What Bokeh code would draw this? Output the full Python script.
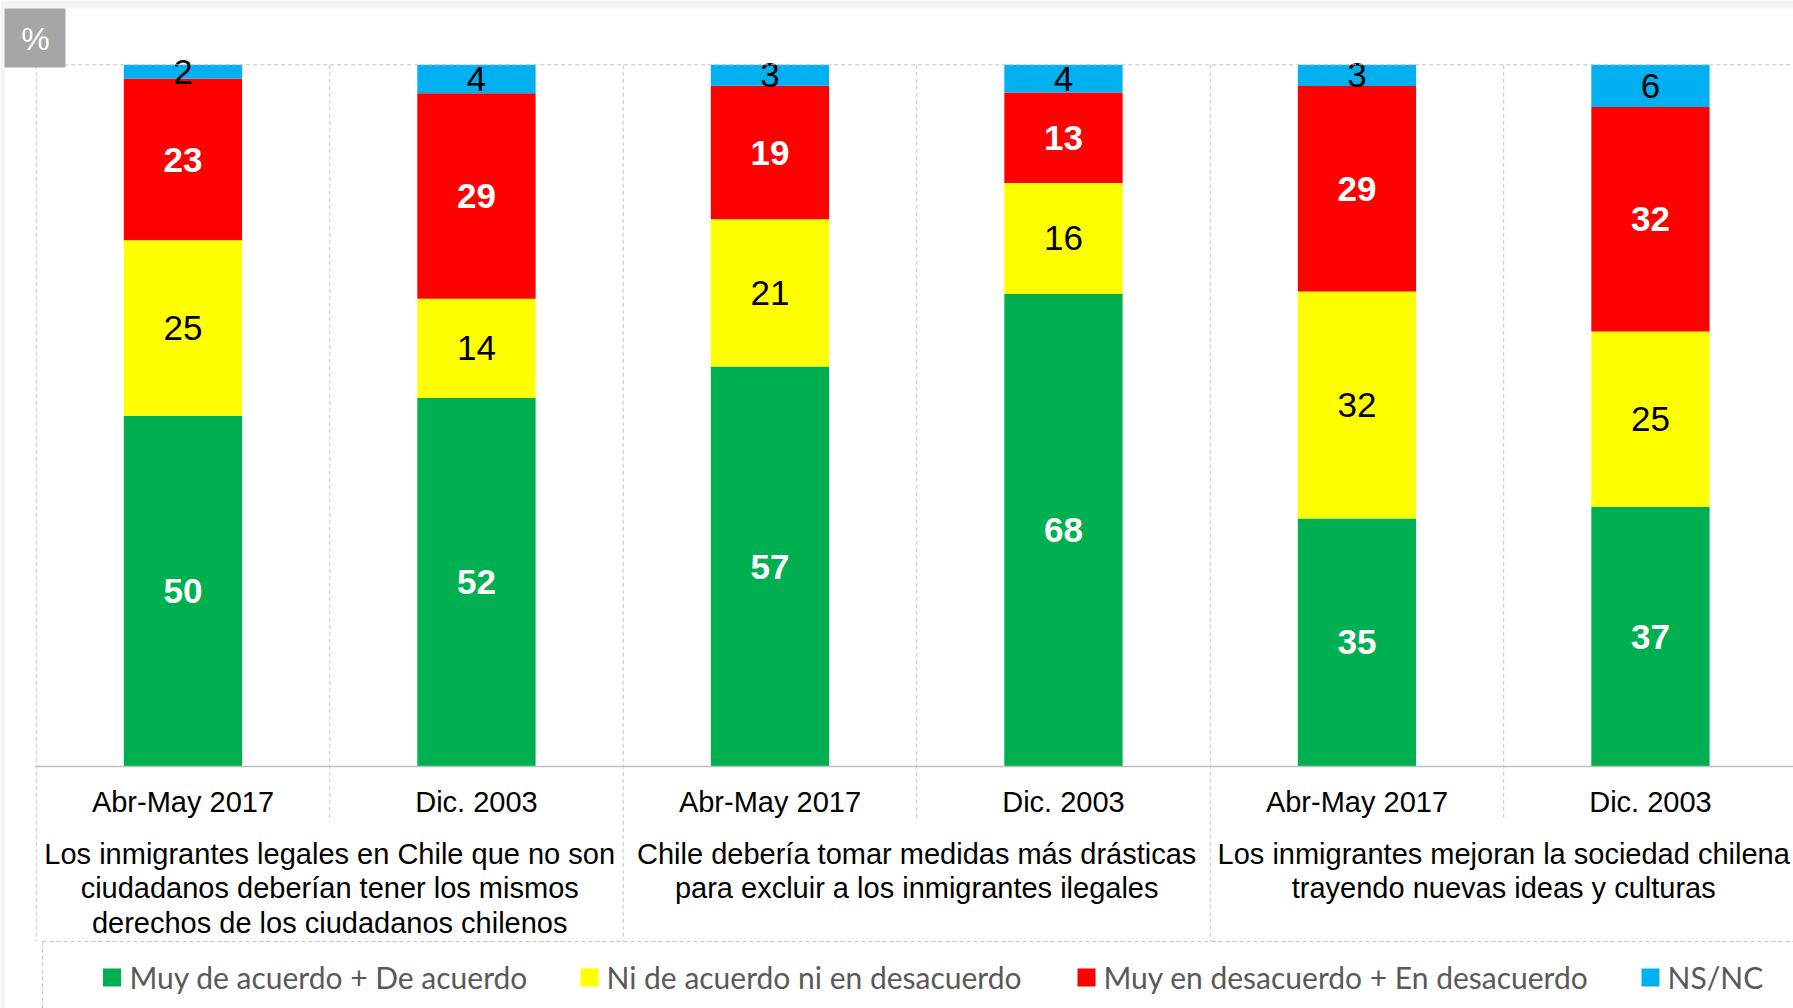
from bokeh.plotting import figure
from bokeh.models import ColumnDataSource, Range1d
from bokeh.core.properties import value
from bokeh.embed import file_html
from bokeh.resources import INLINE

# ---------------- data ----------------
periods = ["Abr-May 2017", "Dic. 2003", "Abr-May 2017", "Dic. 2003", "Abr-May 2017", "Dic. 2003"]
group_labels = [
    ["Los inmigrantes legales en Chile que no son",
     "ciudadanos deberían tener los mismos",
     "derechos de los ciudadanos chilenos"],
    ["Chile debería tomar medidas más drásticas",
     "para excluir a los inmigrantes ilegales"],
    ["Los inmigrantes mejoran la sociedad chilena",
     "trayendo nuevas ideas y culturas"],
]
series_names = ["Muy de acuerdo + De acuerdo", "Ni de acuerdo ni en desacuerdo",
                "Muy en desacuerdo + En desacuerdo", "NS/NC"]
acuerdo = [50, 52, 57, 68, 35, 37]
neutral = [25, 14, 21, 16, 32, 25]
desacuerdo = [23, 29, 19, 13, 29, 32]
nsnc = [2, 4, 3, 4, 3, 6]
colors = ["#00B050", "#FFFF00", "#FF0000", "#00B0F0"]

# ---------------- geometry helpers (page pixels -> data) ----------------
W, H = 1793, 1008
X0, UX = 35.7, 293.5      # page x of category 0 boundary, px per category
Y0, UY = 766.0, 7.017     # page y of 0 %, px per percent


def X(px):
    return (px - X0) / UX


def Y(py):
    return (Y0 - py) / UY


p = figure(width=W, height=H, output_backend="svg", toolbar_location=None,
           x_range=Range1d(X(0), X(W)), y_range=Range1d(Y(H), Y(0)),
           x_axis_type=None, y_axis_type=None, min_border=0,
           min_border_left=0, min_border_right=0, min_border_top=0, min_border_bottom=0)
p.outline_line_color = None
p.grid.visible = False
p.background_fill_color = "white"
p.border_fill_color = "white"

# faint frame strips of the original slide
p.quad(left=[X(0), X(0)], right=[X(W + 5), X(4)], top=[Y(-5), Y(-5)], bottom=[Y(8), Y(H + 5)],
       fill_color="#F4F4F4", line_color=None)

# ---------------- stacked 100% bars ----------------
raw = [acuerdo, neutral, desacuerdo, nsnc]
keys = ["acuerdo", "neutral", "desacuerdo", "nsnc"]
n = len(periods)
totals = [sum(r[i] for r in raw) for i in range(n)]
norm = {k: [raw[j][i] * 100.0 / totals[i] for i in range(n)] for j, k in enumerate(keys)}
xs = [i + 0.5 for i in range(n)]
src = ColumnDataSource(dict(x=xs, **norm))
p.vbar_stack(keys, x="x", width=0.403, color=colors, line_color=None, source=src)

# value labels
for j, k in enumerate(keys):
    ys = []
    for i in range(n):
        before = sum(norm[kk][i] for kk in keys[:j])
        ys.append(before + norm[k][i] / 2.0)
    lsrc = ColumnDataSource(dict(x=xs, y=ys, t=[str(v) for v in raw[j]]))
    white = j in (0, 2)
    p.text(x="x", y="y", text="t", source=lsrc,
           text_font=value("Liberation Sans"), text_font_size="35px",
           text_font_style="bold" if white else "normal",
           text_color="white" if white else "black",
           text_align="center", text_baseline="middle")

# ---------------- frame / separators ----------------
dash_col = "#C4C4C4"
sub_sep = [1, 3, 5]
grp_sep = [0, 2, 4, 6]
p.segment(x0=sub_sep, y0=[100] * 3, x1=sub_sep, y1=[Y(818)] * 3,
          line_color=dash_col, line_dash="4 3", line_width=1)
p.segment(x0=grp_sep, y0=[100] * 4, x1=grp_sep, y1=[Y(941)] * 4,
          line_color=dash_col, line_dash="4 3", line_width=1)
p.segment(x0=[0], y0=[100], x1=[X(1810)], y1=[100],
          line_color=dash_col, line_dash="4 3", line_width=1)
p.segment(x0=[0], y0=[0], x1=[X(1810)], y1=[0],
          line_color="#BFBFBF", line_width=1.5)
# legend box
p.segment(x0=[X(42), X(42)], y0=[Y(941), Y(941)], x1=[X(1810), X(42)], y1=[Y(941), Y(1015)],
          line_color=dash_col, line_dash="4 3", line_width=1)

# ---------------- category labels ----------------
p.text(x=xs, y=[Y(801)] * n, text=periods,
       text_font=value("Liberation Sans"), text_font_size="29px", text_color="black",
       text_align="center", text_baseline="middle")
gx, gy, gt = [], [], []
for g, lines in enumerate(group_labels):
    for li, line in enumerate(lines):
        gx.append(2 * g + 1)
        gy.append(Y(853 + 34.5 * li))
        gt.append(line)
p.text(x=gx, y=gy, text=gt,
       text_font=value("Liberation Sans"), text_font_size="29px", text_color="black",
       text_align="center", text_baseline="middle")

# ---------------- % box ----------------
p.quad(left=[X(4)], right=[X(65)], top=[Y(8)], bottom=[Y(67)],
       fill_color="#A6A6A6", line_color=None)
p.text(x=[X(35)], y=[Y(38)], text=["%"], text_font=value("Liberation Sans"),
       text_font_size="32px", text_color="white", text_align="center", text_baseline="middle")

# ---------------- legend ----------------
sq_px = [111.5, 589, 1086, 1650]
tx_px = [129, 606, 1103, 1667]
p.scatter(x=[X(v) for v in sq_px], y=[Y(977)] * 4, marker="square", size=18,
          fill_color=colors, line_color=None)
p.text(x=[X(v) for v in tx_px], y=[Y(976)] * 4, text=series_names,
       text_font=value("Lato"), text_font_size="30px", text_color="#595959",
       text_align="left", text_baseline="middle")

open("out.html", "w").write(file_html(p, INLINE))
